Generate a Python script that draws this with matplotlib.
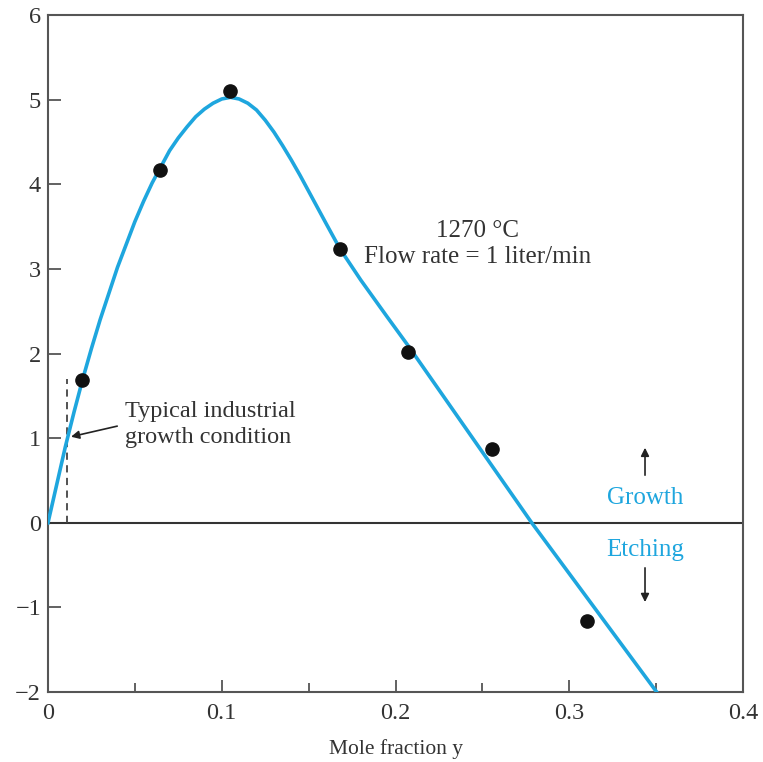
import numpy as np
import matplotlib.pyplot as plt

plt.rcParams['font.family'] = ['Liberation Serif', 'DejaVu Serif']

# measured points (mole fraction, growth rate)
pts_x = [0.0198, 0.0645, 0.1047, 0.168, 0.2074, 0.2554, 0.3104]
pts_y = [1.69, 4.17, 5.10, 3.24, 2.02, 0.87, -1.16]

# fitted curve
curve_x = [0.0, 0.005, 0.010, 0.015, 0.020, 0.025, 0.030, 0.035, 0.040, 0.045,
           0.050, 0.055, 0.060, 0.065, 0.070, 0.075, 0.080, 0.085, 0.090, 0.095,
           0.100, 0.105, 0.110, 0.115, 0.120, 0.125, 0.130, 0.135, 0.140, 0.145,
           0.150, 0.155, 0.160, 0.168, 0.180, 0.195, 0.2074, 0.2784, 0.3503]
curve_y = [0.0, 0.45, 0.90, 1.31, 1.70, 2.06, 2.40, 2.71, 3.02, 3.29,
           3.56, 3.80, 4.02, 4.21, 4.40, 4.55, 4.68, 4.80, 4.89, 4.96,
           5.01, 5.03, 5.01, 4.96, 4.88, 4.76, 4.62, 4.46, 4.29, 4.11,
           3.92, 3.73, 3.54, 3.24, 2.87, 2.44, 2.09, 0.0, -2.0]

blue = '#1ea6de'
grey = '#555555'

fig = plt.figure(figsize=(7.63, 7.62), dpi=100)
ax = fig.add_axes([0.0629, 0.0919, 0.9109, 0.8881])

ax.plot(curve_x, curve_y, color=blue, lw=2.6, solid_joinstyle='round', zorder=3)
ax.plot(pts_x, pts_y, 'o', color='#111111', ms=9.5, zorder=4)
ax.axhline(0, color='#333333', lw=1.5, zorder=2)

# typical condition marker
ax.plot([0.011, 0.011], [0, 1.7], ls=(0, (4, 3)), color='#444444', lw=1.3, zorder=2)
ax.annotate('', xy=(0.0117, 1.01), xytext=(0.0414, 1.15),
            arrowprops=dict(arrowstyle='-|>', color='#222222', lw=1.2,
                            mutation_scale=12))
ax.text(0.0443, 1.16, 'Typical industrial\ngrowth condition', fontsize=17.5,
        color='#333333', ha='left', va='center', linespacing=1.3)

ax.text(0.247, 3.30, '1270 \u00b0C\nFlow rate = 1 liter/min', fontsize=18,
        color='#333333', ha='center', va='center', linespacing=1.25)

ax.text(0.3436, 0.29, 'Growth', fontsize=18, color=blue, ha='center', va='center')
ax.text(0.3436, -0.32, 'Etching', fontsize=18, color=blue, ha='center', va='center')
ax.annotate('', xy=(0.3436, 0.92), xytext=(0.3436, 0.53),
            arrowprops=dict(arrowstyle='-|>', color='#222222', lw=1.2, mutation_scale=12))
ax.annotate('', xy=(0.3436, -0.97), xytext=(0.3436, -0.50),
            arrowprops=dict(arrowstyle='-|>', color='#222222', lw=1.2, mutation_scale=12))

ax.set_xlim(0, 0.4)
ax.set_ylim(-2, 6)
ax.set_xticks([0, 0.1, 0.2, 0.3, 0.4])
ax.set_xticklabels(['0', '0.1', '0.2', '0.3', '0.4'])
ax.set_xticks([0.05, 0.15, 0.25, 0.35], minor=True)
ax.set_yticks(range(-2, 7))
ax.set_yticklabels(['\u22122', '\u22121', '0', '1', '2', '3', '4', '5', '6'])
ax.tick_params(axis='both', which='major', direction='in', length=9, width=1.3,
               colors=grey, labelcolor='#333333', labelsize=17.5)
ax.tick_params(axis='x', which='minor', direction='in', length=6.5, width=1.3, colors=grey)
ax.tick_params(axis='x', which='major', pad=8)
ax.tick_params(axis='y', pad=5)
for s in ax.spines.values():
    s.set_color(grey)
    s.set_linewidth(1.5)

ax.set_xlabel('Mole fraction y', fontsize=15.5, color='#333333', labelpad=11)

fig.savefig('out.png', dpi=100)
